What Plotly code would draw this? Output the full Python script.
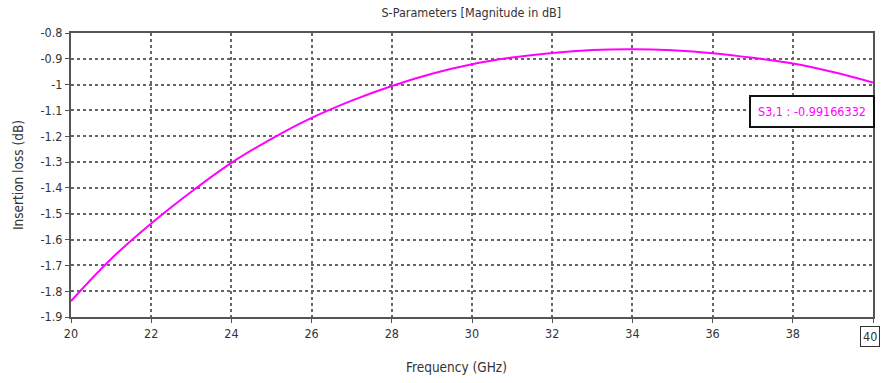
import plotly.graph_objects as go

freq_ghz = [20, 21, 22, 23, 24, 25, 26, 27, 28, 29, 30, 31, 32, 33, 34, 35, 36, 37, 38, 39, 40]
s31_db = [-1.838, -1.675, -1.538, -1.415, -1.303, -1.210, -1.129, -1.062, -1.005, -0.958,
          -0.921, -0.895, -0.877, -0.866, -0.863, -0.867, -0.878, -0.896, -0.918, -0.951, -0.99166332]

x_ticks = [20, 22, 24, 26, 28, 30, 32, 34, 36, 38, 40]
x_tick_text = ["20", "22", "24", "26", "28", "30", "32", "34", "36", "38", ""]
y_ticks = [-0.8, -0.9, -1.0, -1.1, -1.2, -1.3, -1.4, -1.5, -1.6, -1.7, -1.8, -1.9]
y_tick_text = ["-0.8", "-0.9", "-1", "-1.1", "-1.2", "-1.3", "-1.4", "-1.5", "-1.6", "-1.7", "-1.8", "-1.9"]
marker_label = "S3,1 : -0.99166332"

font_family = "DejaVu Sans Condensed, DejaVu Sans, sans-serif"

fig = go.Figure()
fig.add_trace(go.Scatter(x=freq_ghz, y=s31_db, mode="lines",
                         line=dict(color="#ff00ff", width=2, shape="spline"),
                         showlegend=False, hoverinfo="skip"))

fig.update_layout(
    width=881, height=383,
    margin=dict(l=71, r=6, t=33, b=66),
    paper_bgcolor="white", plot_bgcolor="white",
    font=dict(family=font_family, size=12, color="#333333"),
    title=dict(text="S-Parameters [Magnitude in dB]", x=0.535, xanchor="center",
               y=0.966, yanchor="middle", font=dict(size=12.5, color="#333333")),
    xaxis=dict(range=[20, 40], tickvals=x_ticks, ticktext=x_tick_text,
               showgrid=True, gridcolor="#666666", griddash="dot", gridwidth=1.5,
               showline=True, linecolor="#555555", linewidth=2, mirror=True,
               ticks="outside", ticklen=4, tickcolor="#555555", zeroline=False,
               tickfont=dict(size=12.5, color="#333333")),
    yaxis=dict(range=[-1.9, -0.8], tickvals=y_ticks, ticktext=y_tick_text,
               showgrid=True, gridcolor="#666666", griddash="dot", gridwidth=1.5,
               showline=True, linecolor="#555555", linewidth=2, mirror=True,
               ticks="outside", ticklen=4, tickcolor="#555555", zeroline=False,
               tickfont=dict(size=12.5, color="#333333")),
)

fig.add_annotation(x=0.481, y=-0.176, xref="paper", yref="paper", text="Frequency (GHz)",
                   showarrow=False, xanchor="center", yanchor="middle",
                   font=dict(size=13.5, color="#333333", family=font_family))
fig.add_annotation(x=-0.066, y=0.5, xref="paper", yref="paper", text="Insertion loss (dB)",
                   showarrow=False, xanchor="center", yanchor="middle", textangle=-90,
                   font=dict(size=13.5, color="#333333", family=font_family))

fig.add_annotation(x=40, y=-1.105, xref="x", yref="y", text=marker_label,
                   showarrow=False, xanchor="right", yanchor="middle", xshift=2,
                   font=dict(size=12.5, color="#ff00ff", family=font_family),
                   bgcolor="white", bordercolor="#111111", borderwidth=2, borderpad=7)

fig.add_annotation(x=40, y=0, xref="x", yref="paper", text="40",
                   showarrow=False, xanchor="left", yanchor="top", yshift=-9, xshift=-13,
                   font=dict(size=12.5, color="#333333", family=font_family),
                   bgcolor="white", bordercolor="#333333", borderwidth=1, borderpad=2)

fig.write_html("out.html")
